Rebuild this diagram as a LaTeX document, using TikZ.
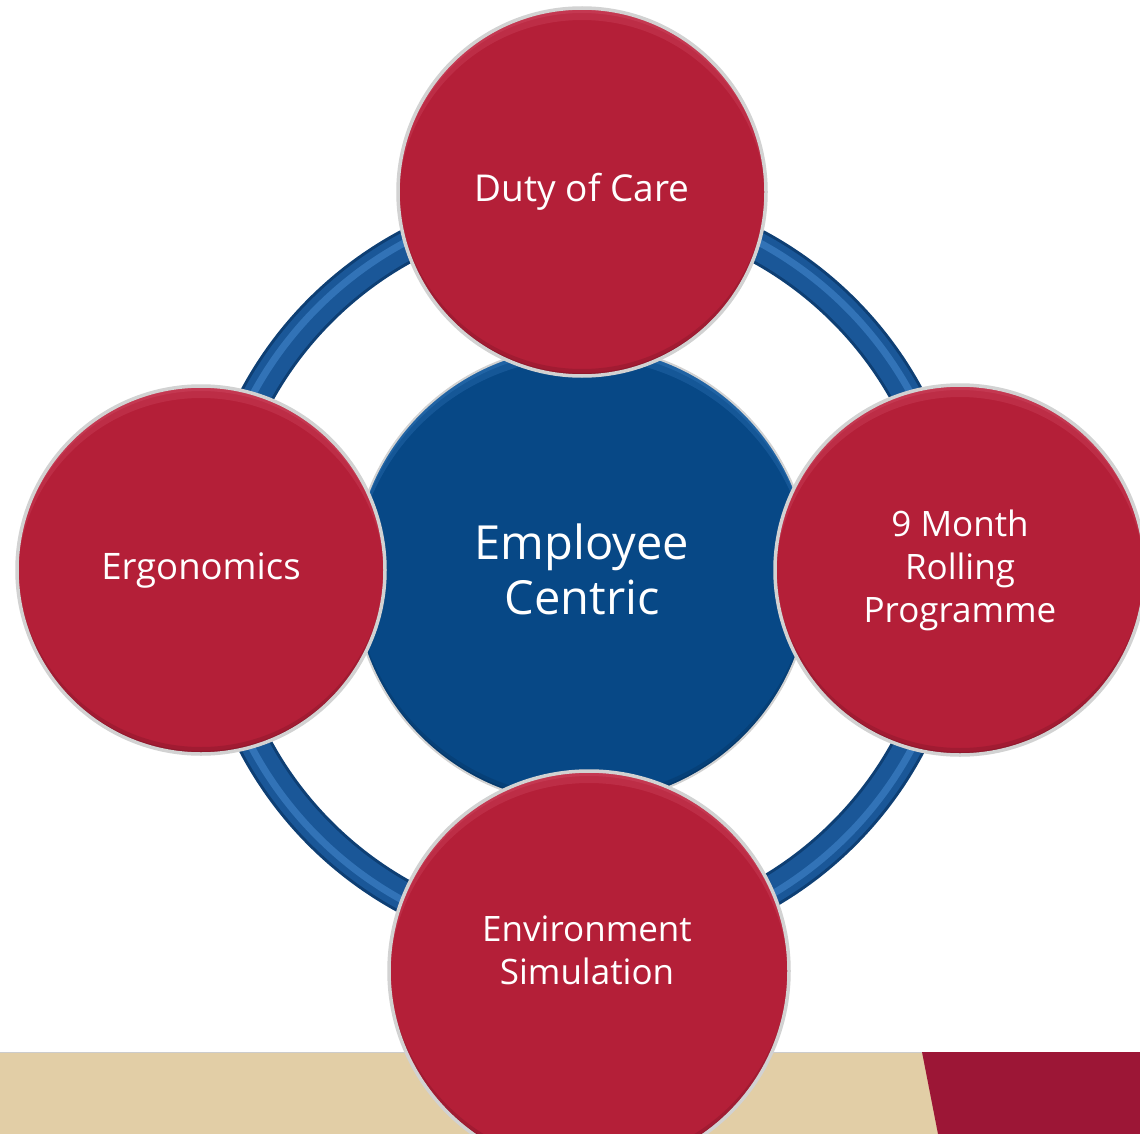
\documentclass[tikz,border=0pt]{standalone}
\usepackage{fontspec}
\setmainfont{Open Sans}
\definecolor{cred}{HTML}{B41F38}
\definecolor{credlight}{HTML}{E0607A}
\definecolor{cblue}{HTML}{074886}
\definecolor{cbluelight}{HTML}{4A90D6}
\definecolor{ringblue}{HTML}{1A5798}
\definecolor{ringdark}{HTML}{0E3F74}
\definecolor{rim}{HTML}{D2D2D2}
\definecolor{beige}{HTML}{E2CEA6}
\definecolor{bandred}{HTML}{9C1636}
\newcommand{\mybevel}[3]{% node, radius, highlight colour
  \begin{scope}
    \clip (#1.center) circle[radius=#2];
    \fill[#3, opacity=0.22, even odd rule] (#1.center) circle[radius=#2+2pt] ([yshift=-12pt]#1.center) circle[radius=#2];
    \fill[#3, opacity=0.22, even odd rule] (#1.center) circle[radius=#2+2pt] ([yshift=-5pt]#1.center) circle[radius=#2];
    \fill[black, opacity=0.10, even odd rule] (#1.center) circle[radius=#2+2pt] ([yshift=7pt]#1.center) circle[radius=#2];
    \fill[black, opacity=0.10, even odd rule] (#1.center) circle[radius=#2+2pt] ([yshift=3pt]#1.center) circle[radius=#2];
  \end{scope}}
\tikzset{
  redc/.style={circle, fill=cred, minimum size=#1, inner sep=0pt,
    text=white, font=\fontsize{35}{43}\selectfont, align=center},
  bluec/.style={circle, fill=cblue, minimum size=#1, inner sep=0pt},
  rimline/.style={draw=rim, line width=3.5pt},
  lbl/.style={text=white, font=\fontsize{35}{43}\selectfont, align=center, inner sep=0pt}
}
\begin{document}
\begin{tikzpicture}[x=1pt,y=-1pt]
\useasboundingbox (0,0) rectangle (1140,1134);
\clip (0,0) rectangle (1140,1134);
\fill[white] (0,0) rectangle (1140,1134);
% bottom band
\fill[beige] (0,1052) rectangle (1140,1134);
\fill[bandred] (922,1052) -- (1140,1052) -- (1140,1134) -- (938,1134) -- cycle;
\draw[black!20, line width=1pt] (0,1052) -- (922,1052);
% ring
\coordinate (rc) at (582,572);
\draw[ringdark, line width=34pt] (rc) circle[radius=370pt];
\draw[ringblue, line width=28pt] (rc) circle[radius=370pt];
\draw[cbluelight, line width=7pt, opacity=0.5] (rc) circle[radius=374pt];
% center
\node[bluec=458pt] (center) at (582,575) {};
\mybevel{center}{229pt}{cbluelight}
\draw[rim, line width=2pt] (center.center) circle[radius=229pt];
\node[lbl, font=\fontsize{47}{55}\selectfont] (centertext) at (582,569) {Employee\\Centric};
% satellites
\node[redc=368pt] (duty) at (582,192) {};
\mybevel{duty}{184pt}{credlight}
\draw[rimline] (duty.center) circle[radius=184pt];
\node[lbl, font=\fontsize{37}{43}\selectfont] (dutytext) at (duty.center) {Duty of Care};
\node[redc=368pt] (ergo) at (201,570) {};
\mybevel{ergo}{184pt}{credlight}
\draw[rimline] (ergo.center) circle[radius=184pt];
\node[lbl, font=\fontsize{36.5}{43}\selectfont] (ergotext) at (ergo.center) {Ergonomics};
\node[redc=370pt] (rolling) at (960,570) {};
\mybevel{rolling}{185pt}{credlight}
\draw[rimline] (rolling.center) circle[radius=185pt];
\node[lbl] (rollingtext) at (rolling.center) {9 Month\\Rolling\\Programme};
\node[redc=400pt] (env) at (589,971) {};
\mybevel{env}{200pt}{credlight}
\draw[rimline] (env.center) circle[radius=200pt];
\node[lbl] (envtext) at (587,950) {Environment\\Simulation};
\end{tikzpicture}
\end{document}
